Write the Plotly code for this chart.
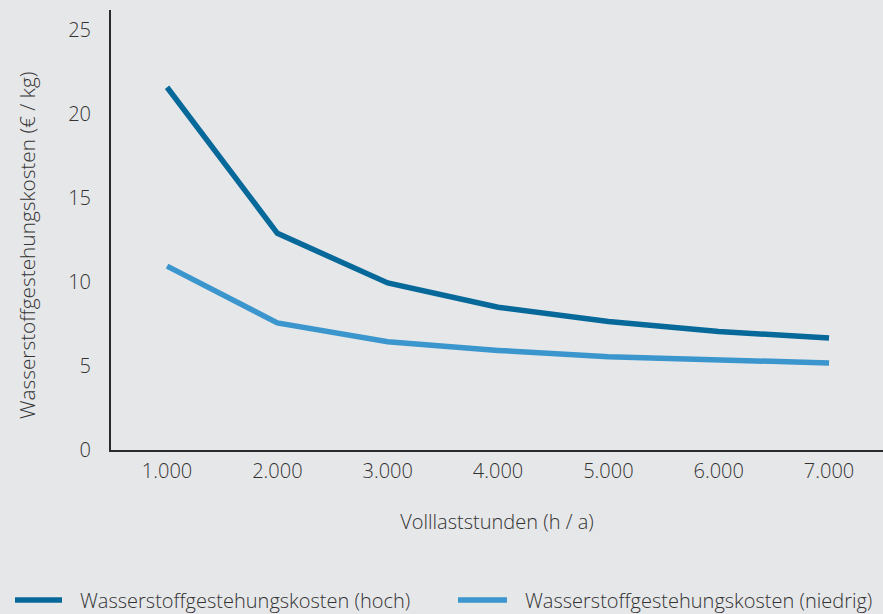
import plotly.graph_objects as go

# Full-load hours (h/a) and hydrogen production cost (EUR/kg)
hours = [1000, 2000, 3000, 4000, 5000, 6000, 7000]
cost_high = [21.6, 12.9, 9.95, 8.5, 7.65, 7.05, 6.67]
cost_low = [10.95, 7.57, 6.45, 5.93, 5.55, 5.33, 5.18]

x_tickvals = [1000, 2000, 3000, 4000, 5000, 6000, 7000]
x_ticktext = ["1.000", "2.000", "3.000", "4.000", "5.000", "6.000", "7.000"]
y_tickvals = [0, 5, 10, 15, 20, 25]

series_names = ["Wasserstoffgestehungskosten (hoch)", "Wasserstoffgestehungskosten (niedrig)"]
series_colors = ["#07689a", "#3b96cd"]
y_title = "Wasserstoffgestehungskosten (€ / kg)"
x_title = "Volllaststunden (h / a)"

BG = "#e6e7e9"
TEXT = "#333333"
FONT = "Open Sans"
WEIGHT = 300
SIZE = 20
LINE_W = 5.5

# plot area in pixels: x 111..883, y 10..450
L, R, T, B = 111, 0, 10, 164
W, H = 883, 614
PW, PH = W - L - R, H - T - B


def px_x(p):
    return (p - L) / PW


def px_y(p):
    return (H - B - p) / PH


def text_font(size=SIZE):
    return dict(family=FONT, size=size, color=TEXT, weight=WEIGHT)


fig = go.Figure()
for vals, name, color in zip([cost_high, cost_low], series_names, series_colors):
    fig.add_trace(go.Scatter(x=hours, y=vals, mode="lines", name=name,
                             line=dict(color=color, width=LINE_W)))

# legend row below the axis title: short line swatch followed by its label
legend_y = 600
swatches = [(15, 62, 80), (458, 507, 525)]
shapes, annotations = [], []
for (x0, x1, tx), name, color in zip(swatches, series_names, series_colors):
    shapes.append(dict(type="line", xref="paper", yref="paper",
                       x0=px_x(x0), x1=px_x(x1), y0=px_y(legend_y), y1=px_y(legend_y),
                       line=dict(color=color, width=LINE_W)))
    annotations.append(dict(text=name, xref="paper", yref="paper",
                            x=px_x(tx - 2), y=px_y(legend_y), xanchor="left", yanchor="middle",
                            showarrow=False, font=text_font()))

# vertical axis title, rotated, sitting left of the tick labels
annotations.append(dict(text=y_title, xref="paper", yref="paper", textangle=-90,
                        x=px_x(27), y=px_y(246), xanchor="center", yanchor="middle",
                        showarrow=False, font=text_font(20.8)))

fig.update_layout(
    width=W, height=H,
    paper_bgcolor=BG, plot_bgcolor=BG,
    margin=dict(l=L, r=R, t=T, b=B),
    font=text_font(),
    showlegend=False,
    shapes=shapes,
    annotations=annotations,
    xaxis=dict(range=[492, 7489], tickvals=x_tickvals, ticktext=x_ticktext,
               showgrid=False, zeroline=False, showline=True,
               linecolor="#2b2b2b", linewidth=2, ticks="", ticklabelstandoff=2,
               tickfont=text_font(),
               title=dict(text=x_title, standoff=32, font=text_font())),
    yaxis=dict(range=[0, 26.2], tickvals=y_tickvals,
               showgrid=False, zeroline=False, showline=True,
               linecolor="#2b2b2b", linewidth=2, ticks="", ticklabelstandoff=14,
               tickfont=text_font()),
)

fig.write_html("out.html")
